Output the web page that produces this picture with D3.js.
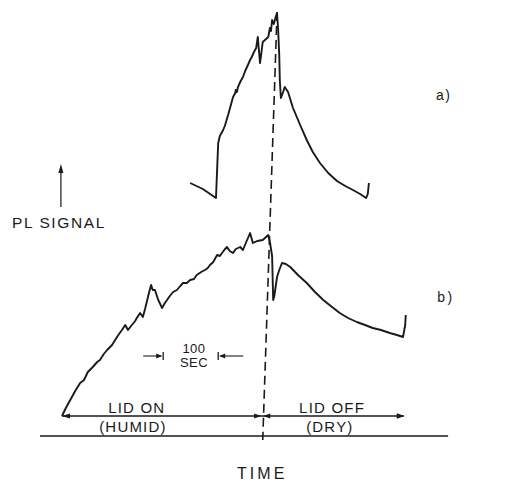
<!DOCTYPE html>
<html><head><meta charset="utf-8">
<script src="https://cdn.jsdelivr.net/npm/d3@7"></script>
<style>
body{margin:0;background:#fff}
svg{display:block}
text{font-family:"Liberation Sans",Arial,sans-serif;fill:#1a1a1a}
</style>
</head><body>
<svg id="c" width="517" height="482"></svg>
<script>
// time in seconds, signal in arbitrary units
const timeDomain = [0, 700];
const signalDomain = [0, 101];

// trace a) (offset upward)
const curveA = [[233,58.25],[256,56.75],[280,54.5],[282,61.5],[284,68.25],[287,70],[293,71.5],[296,72.5],[302,75.25],[307,77.75],[311,79.75],[315,80.75],[316,81.5],[318,81],[320,82.25],[324,83.5],[329,84.75],[333,86.25],[338,87.75],[342,89],[345,89.75],[349,91],[353,92],[356,94.75],[358,91.5],[360,88.25],[362,90.25],[365,93.5],[369,94],[375,94.75],[378,97],[380,96.25],[382,99],[385,98],[389,100],[391,100.75],[393,96.5],[395,90.25],[396,84],[398,79.5],[402,81],[405,82.25],[411,81],[420,77],[433,72.75],[445,69],[456,66],[469,63.25],[484,60.75],[500,58.75],[515,57.5],[529,56.5],[542,55.5],[553,54.5],[556,55.5],[558,58.25]];

// trace b)
const curveB = [[0,0],[7,2],[15,4],[24,6.25],[33,8.25],[40,9],[47,11],[56,12.25],[64,13.5],[69,14],[76,15.5],[82,16.5],[91,17.75],[100,19.75],[105,20.75],[109,21.5],[115,22.75],[120,21.5],[127,22.75],[133,23.75],[136,24.5],[142,25.75],[147,24.75],[151,26.75],[155,29],[158,30.75],[162,32.75],[165,31.5],[169,31.5],[175,29],[182,27],[187,28.25],[191,29],[196,30],[202,31],[209,31.5],[215,32.5],[220,33.25],[227,33.25],[233,34],[240,34.25],[245,35.25],[253,36],[260,36.5],[265,37],[269,37.75],[275,38.5],[282,40.25],[287,40],[295,41.5],[300,42.25],[305,41.25],[311,40.75],[316,41.75],[324,42.25],[329,41.5],[335,43.5],[342,45.75],[347,43.25],[355,43.75],[365,44],[371,44.75],[375,45.25],[378,43.5],[382,40],[384,29],[386,30],[391,34.75],[395,36.5],[400,38.25],[407,38],[415,37.25],[429,35.25],[445,33.25],[460,31],[475,29],[491,27.25],[505,25.75],[520,24.5],[536,23.5],[551,22.75],[565,22],[580,21.5],[596,20.75],[609,20.25],[620,19.75],[624,22.75],[625,25.25]];

// lid switch (dashed), lid span, baseline, 100 s scale bar
const switchLine = [[391,101],[365,-6]];
const lidSpan = [0, 625];
const switchTime = 364;
const baselineSpan = [-40, 702];
const baselineSignal = -5;
const scaleBar = [184, 284];
const scaleBarSignal = 15;

const labelTexts = {lidOn:"LID ON", lidOff:"LID OFF", humid:"(HUMID)", dry:"(DRY)", time:"TIME", yLabel:"PL SIGNAL", scale1:"100", scale2:"SEC", a:"a)", b:"b)"};

const svg = d3.select("#c");
const x = d3.scaleLinear().domain(timeDomain).range([62, 447]);
const y = d3.scaleLinear().domain(signalDomain).range([416, 12]);
const ink = "#1a1a1a";
const line = d3.line().x(d => x(d[0])).y(d => y(d[1]));

function arrowHead(px, py, dir, len=7, w=3) {
  let p;
  if (dir === 'up') p = [[px,py],[px-w,py+len],[px+w,py+len]];
  else p = [[px,py],[px-dir*len,py-w],[px-dir*len,py+w]];
  svg.append("path").attr("d","M"+p.map(q=>q.join(",")).join("L")+"Z").attr("fill",ink);
}

// baseline
svg.append("line").attr("x1",x(baselineSpan[0])).attr("x2",x(baselineSpan[1]))
  .attr("y1",y(baselineSignal)).attr("y2",y(baselineSignal))
  .attr("stroke",ink).attr("stroke-width",1.4);

// lid span arrows
const ly = y(0);
svg.append("line").attr("x1",x(lidSpan[0])).attr("x2",x(lidSpan[1])-2).attr("y1",ly).attr("y2",ly)
  .attr("stroke",ink).attr("stroke-width",1.3);
arrowHead(x(lidSpan[0]), ly, -1, 8, 2.5);
arrowHead(x(lidSpan[1])-1, ly, 1, 8, 2.8);
arrowHead(x(switchTime)-1, ly, 1, 7, 2.5);
arrowHead(x(switchTime)+1, ly, -1, 7, 2.5);

// dashed switch line
svg.append("path").attr("d", line(switchLine)).attr("fill","none")
  .attr("stroke",ink).attr("stroke-width",1.6).attr("stroke-dasharray","9,5");

// traces
[curveA, curveB].forEach(c => {
  svg.append("path").attr("d", line(c)).attr("fill","none")
    .attr("stroke",ink).attr("stroke-width",1.9).attr("stroke-linejoin","round");
});

// 100 s scale bar
const sy = y(scaleBarSignal);
const sx0 = x(scaleBar[0]), sx1 = x(scaleBar[1]);
svg.append("line").attr("x1",sx0-20).attr("x2",sx0-2).attr("y1",sy).attr("y2",sy).attr("stroke",ink).attr("stroke-width",1.1);
svg.append("line").attr("x1",sx1+2).attr("x2",sx1+25).attr("y1",sy).attr("y2",sy).attr("stroke",ink).attr("stroke-width",1.1);
arrowHead(sx0-1, sy, 1, 6, 2.5);
arrowHead(sx1+1, sy, -1, 6, 2.5);
[sx0, sx1].forEach(v => svg.append("line").attr("x1",v).attr("x2",v).attr("y1",sy-4).attr("y2",sy+4).attr("stroke",ink).attr("stroke-width",1.3));

// y arrow
arrowHead(x(-2), y(63), 'up', 9, 2.5);
svg.append("line").attr("x1",x(-2)).attr("x2",x(-2)).attr("y1",y(52.25)).attr("y2",y(62)).attr("stroke",ink).attr("stroke-width",1.2);

function label(txt, t, s, opts={}) {
  svg.append("text").attr("x", x(t)).attr("y", y(s))
    .attr("text-anchor", opts.anchor || "middle")
    .attr("font-size", opts.size || 15)
    .attr("letter-spacing", opts.ls == null ? 1.2 : opts.ls)
    .text(txt);
}
label(labelTexts.lidOn, 136, 0.75);
label(labelTexts.lidOff, 491, 0.75);
label(labelTexts.humid, 129, -4);
label(labelTexts.dry, 487, -4);
label(labelTexts.time, 364, -15.75, {size:16, ls:3});
label(labelTexts.yLabel, -91, 47, {anchor:"start", size:15.5, ls:1.6});
label(labelTexts.scale1, 240, 15.75, {size:13, ls:0.5});
label(labelTexts.scale2, 240, 12.25, {size:13, ls:0.5});
label(labelTexts.a, 694, 79, {size:14, ls:1.5});
label(labelTexts.b, 698, 28.5, {size:14, ls:2.5});
</script>
</body></html>
